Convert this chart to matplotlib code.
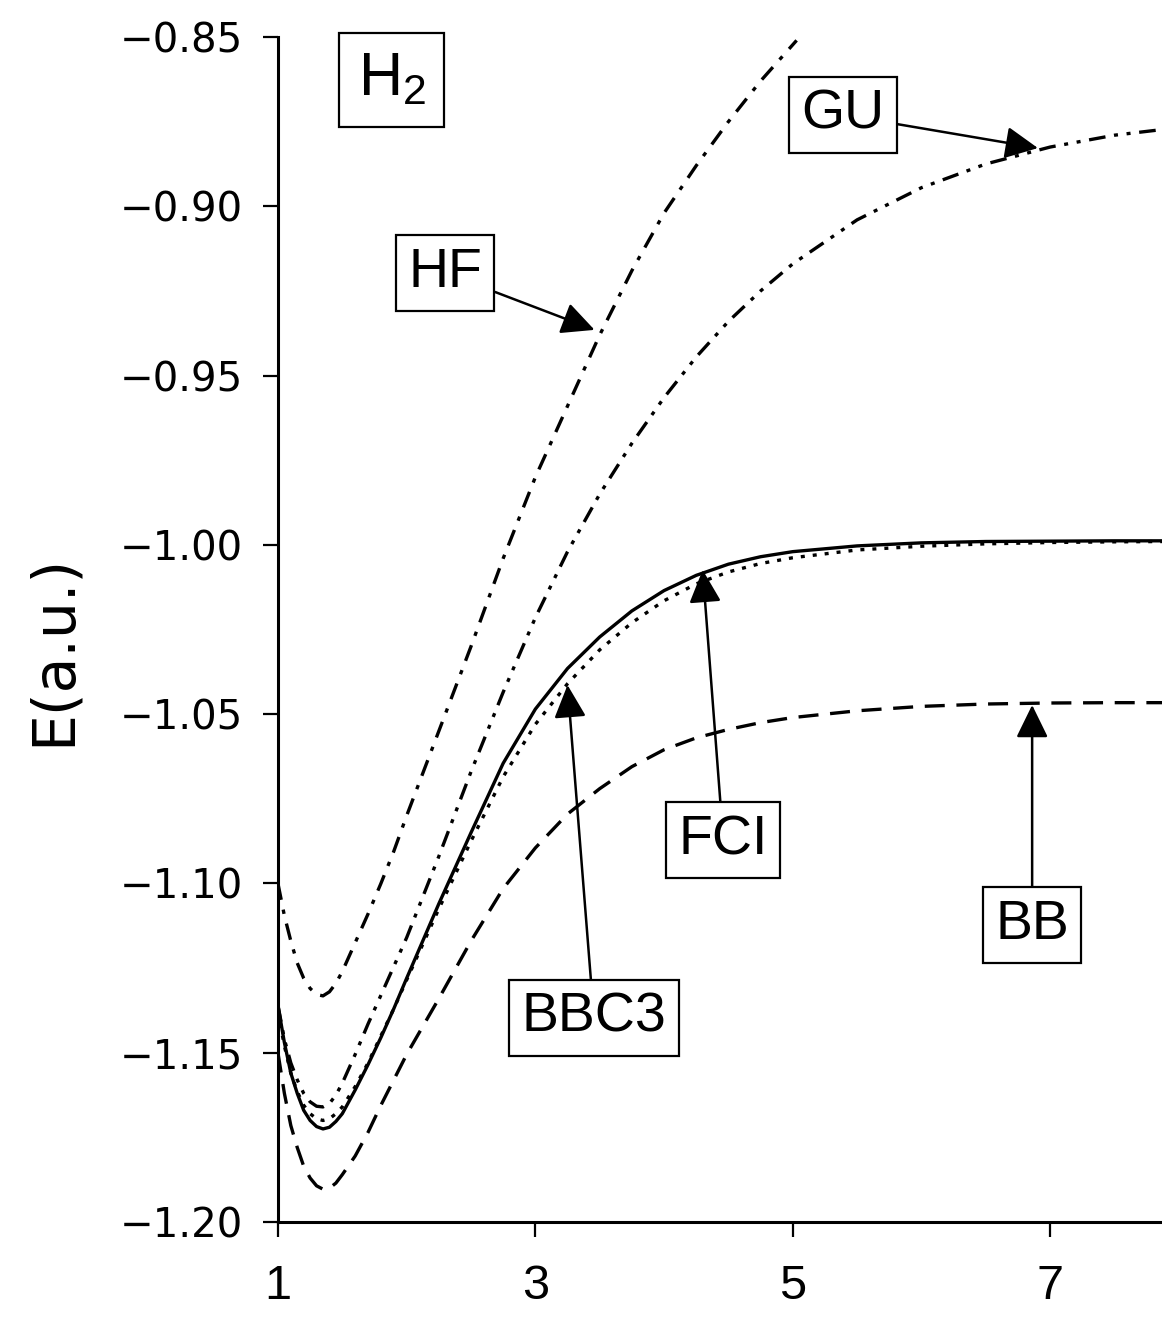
import numpy as np
import matplotlib
matplotlib.use('Agg')
import matplotlib.pyplot as plt

# bond distance (bohr) and energies (a.u.)
r_hf = [1.0, 1.05, 1.1, 1.15, 1.2, 1.25, 1.3, 1.35, 1.4, 1.45, 1.5, 1.6, 1.7, 1.8, 1.9, 2.0, 2.25, 2.5, 2.75,
        3.0, 3.25, 3.5, 3.75, 4.0, 4.25, 4.5, 4.75, 5.03]
e_hf = [-1.100, -1.1095, -1.117, -1.1235, -1.128, -1.131, -1.1328, -1.1332, -1.132, -1.1295, -1.126, -1.1175,
        -1.109, -1.100, -1.0905, -1.080, -1.055, -1.030, -1.004, -0.980, -0.959, -0.938, -0.919, -0.902, -0.888,
        -0.875, -0.863, -0.851]

r = [1.0, 1.05, 1.1, 1.15, 1.2, 1.25, 1.3, 1.35, 1.4, 1.45, 1.5, 1.6, 1.7, 1.8, 1.9, 2.0, 2.25, 2.5, 2.75, 3.0,
     3.25, 3.5, 3.75, 4.0, 4.25, 4.5, 4.75, 5.0, 5.5, 6.0, 6.5, 7.0, 7.5, 7.9]
e_gu = [-1.136, -1.146, -1.153, -1.158, -1.162, -1.1645, -1.1658, -1.166, -1.165, -1.1625, -1.159, -1.1505,
        -1.1415, -1.133, -1.1245, -1.116, -1.092, -1.067, -1.0435, -1.0215, -1.002, -0.985, -0.970, -0.9565,
        -0.9445, -0.934, -0.925, -0.917, -0.904, -0.8945, -0.8875, -0.8825, -0.879, -0.8772]
e_fci = [-1.136, -1.147, -1.156, -1.162, -1.167, -1.170, -1.1718, -1.1725, -1.172, -1.1703, -1.168, -1.161,
         -1.1535, -1.1455, -1.137, -1.128, -1.106, -1.085, -1.0645, -1.0485, -1.0365, -1.0272, -1.0195, -1.0135,
         -1.009, -1.0057, -1.0035, -1.002, -1.0003, -0.9994, -0.999, -0.9989, -0.9988, -0.9988]
e_bbc3 = [-1.138, -1.148, -1.156, -1.1615, -1.1655, -1.168, -1.1695, -1.170, -1.1695, -1.168, -1.166, -1.160,
          -1.153, -1.145, -1.137, -1.1285, -1.1075, -1.0875, -1.0685, -1.053, -1.041, -1.031, -1.023, -1.0165,
          -1.0115, -1.008, -1.0055, -1.0038, -1.0015, -1.0004, -0.9997, -0.9993, -0.9991, -0.999]
e_bb = [-1.150, -1.162, -1.1715, -1.178, -1.1835, -1.187, -1.1893, -1.1903, -1.190, -1.1885, -1.186, -1.1805,
        -1.1735, -1.1655, -1.158, -1.1505, -1.134, -1.117, -1.1015, -1.0895, -1.0795, -1.072, -1.0655, -1.0605,
        -1.057, -1.0545, -1.0525, -1.051, -1.049, -1.0477, -1.047, -1.0467, -1.0466, -1.0466]

labels = ['GU', 'HF', 'FCI', 'BBC3', 'BB']
text_xy = [(5.39, -0.873), (2.30, -0.9197), (4.46, -1.0872), (3.455, -1.1397), (6.86, -1.1123)]
tip_xy = [(6.905, -0.8828), (3.46, -0.9365), (4.30, -1.0074), (3.25, -1.0414), (6.86, -1.0473)]

lab_font = 'Liberation Sans'

fig = plt.figure(figsize=(11.62, 13.17), dpi=100)
ax = fig.add_axes([0.2392, 0.0721, 0.7608, 0.8998])

lw = 2.4
ax.plot(r_hf, e_hf, color='k', lw=lw, dashes=(5, 3, 1.3, 3))
ax.plot(r, e_gu, color='k', lw=lw, dashes=(5, 2.6, 1.2, 2.6, 1.2, 2.6))
ax.plot(r, e_bbc3, color='k', lw=lw, dashes=(1.2, 2.4))
ax.plot(r, e_fci, color='k', lw=lw)
ax.plot(r, e_bb, color='k', lw=lw, dashes=(6, 3.5))

ax.set_xlim(1, 7.869)
ax.set_ylim(-1.20, -0.85)
ax.set_xticks([1, 3, 5, 7])
ax.set_yticks(np.arange(-1.20, -0.849, 0.05))
ax.yaxis.set_major_formatter(matplotlib.ticker.FuncFormatter(lambda v, p: ('%.2f' % v).replace('-', '\u2212')))
for s in ['top', 'right']:
    ax.spines[s].set_visible(False)
for s in ['left', 'bottom']:
    ax.spines[s].set_linewidth(2.2)
ax.tick_params(direction='out', length=11, width=1.6)
ax.tick_params(axis='y', labelsize=29, pad=14)
ax.tick_params(axis='x', pad=19)
for t in ax.get_xticklabels():
    t.set_family(lab_font)
    t.set_fontsize(35)
ax.set_ylabel('E(a.u.)', fontsize=42)
ax.yaxis.set_label_coords(-0.222, 0.483)

box = dict(boxstyle='square,pad=0.22', fc='white', ec='k', lw=1.6)
arr = dict(arrowstyle='-|>,head_length=0.45,head_width=0.22', mutation_scale=45, lw=1.8, color='k',
           shrinkA=0, shrinkB=0)
for lab, txy, pxy in zip(labels, text_xy, tip_xy):
    ax.annotate(lab, xy=pxy, xytext=txy, ha='center', va='center', family=lab_font, fontsize=40,
                bbox=box, arrowprops=arr)

ax.text(1.886, -0.8627, r'H$_\mathregular{2}$', ha='center', va='center', family=lab_font, fontsize=44,
        bbox=dict(boxstyle='square,pad=0.3', fc='white', ec='k', lw=1.6))

fig.savefig('out.png', dpi=100)
